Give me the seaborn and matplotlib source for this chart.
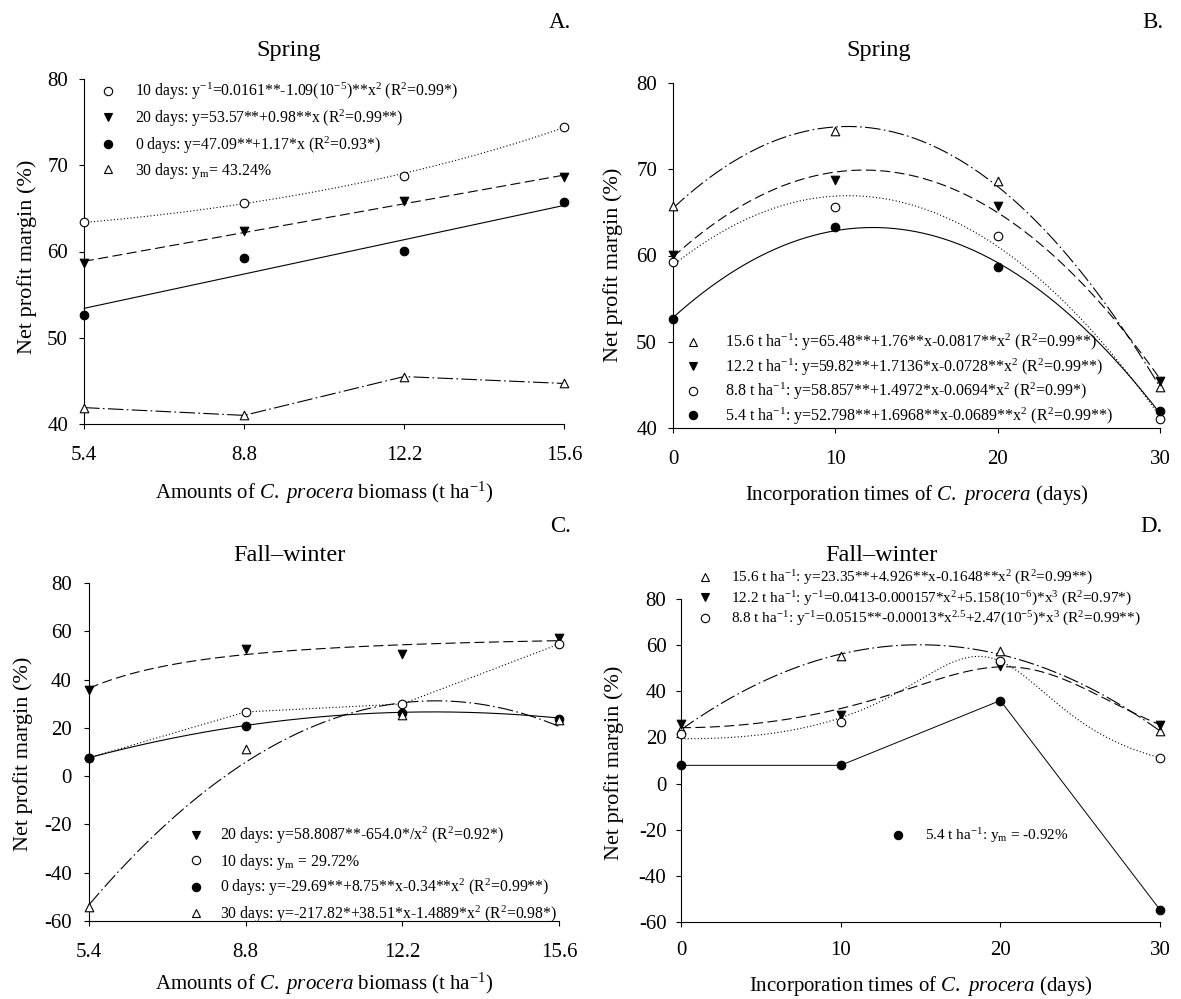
import numpy as np
import matplotlib
matplotlib.use("Agg")
import matplotlib.pyplot as plt
from matplotlib.lines import Line2D
import seaborn as sns

# ---------------- data ----------------
biomass = [5.4, 8.8, 12.2, 15.6]
days = [0, 10, 20, 30]
biomass_ticks = ["5.4", "8.8", "12.2", "15.6"]
days_ticks = ["0", "10", "20", "30"]

# Panel A: spring, x = biomass, series = incorporation time
A_0d = [52.6, 59.3, 60.1, 65.7]
A_10d = [63.4, 65.6, 68.8, 74.4]
A_20d = [58.7, 62.4, 65.8, 68.6]
A_30d = [41.9, 41.0, 45.5, 44.7]
# Panel B: spring, x = days, series = biomass
B_54 = [52.6, 63.3, 58.7, 42.0]
B_88 = [59.2, 65.6, 62.3, 41.0]
B_122 = [60.1, 68.7, 65.7, 45.4]
B_156 = [65.7, 74.4, 68.6, 44.8]
# Panel C: fall-winter, x = biomass
C_0d = [7.6, 20.9, 26.1, 23.7]
C_10d = [7.6, 26.6, 29.9, 54.7]
C_20d = [35.8, 52.7, 50.6, 57.1]
C_30d = [-54.2, 11.3, 25.5, 23.1]
# Panel D: fall-winter, x = days
D_54 = [7.9, 7.9, 36.0, -54.7]
D_88 = [21.3, 26.7, 53.1, 11.2]
D_122 = [25.8, 29.6, 51.1, 25.3]
D_156 = [23.8, 55.4, 57.4, 23.0]

# regression coefficients (from the equations shown in the chart)
A_0d_lin = [47.09, 1.17]
A_20d_lin = [53.57, 0.98]
A_10d_inv = [0.0161, -1.09e-5]          # 1/y = a + b x^2
B_54_quad = [52.798, 1.6968, -0.0689]
B_88_quad = [58.857, 1.4972, -0.0694]
B_122_quad = [59.82, 1.7136, -0.0728]
B_156_quad = [65.48, 1.76, -0.0817]
C_20d_inv2 = [58.8087, -654.0]          # y = a + b / x^2
C_0d_quad = [-29.69, 8.75, -0.34]
C_30d_quad = [-217.82, 38.51, -1.4889]
D_156_quad = [23.35, 4.926, -0.1648]
D_122_inv = [0.0413, -0.000157, 5.158e-6]   # 1/y = a + b x^2 + c x^3
D_88_inv = [0.0515, -0.0001335, 2.577e-5]   # 1/y = a + b x^2.5 + c x^3

# ---------------- style ----------------
sns.set_theme(style="ticks")
plt.rcParams["font.family"] = ["Liberation Serif", "DejaVu Serif"]
plt.rcParams["mathtext.fontset"] = "custom"
plt.rcParams["mathtext.rm"] = "Liberation Serif"
plt.rcParams["mathtext.it"] = "Liberation Serif:italic"
plt.rcParams["mathtext.bf"] = "Liberation Serif:bold"
plt.rcParams["axes.unicode_minus"] = False
plt.rcParams["axes.linewidth"] = 0.8
plt.rcParams["axes.edgecolor"] = "black"
plt.rcParams["xtick.color"] = "black"
plt.rcParams["ytick.color"] = "black"
plt.rcParams["text.color"] = "black"
plt.rcParams["axes.labelcolor"] = "black"

W, H = 1181, 999
fig = plt.figure(figsize=(W / 100, H / 100), dpi=100)
fig.patch.set_facecolor("white")

def px_axes(l, t, r, b):
    return fig.add_axes([l / W, 1 - b / H, (r - l) / W, (b - t) / H])

axA = px_axes(84, 79, 564, 424)
axB = px_axes(673, 83, 1160, 428)
axC = px_axes(89, 583, 559, 921)
axD = px_axes(681, 599, 1160, 922)

MK = {
    "open_o": dict(marker="o", fc="white"),
    "fill_o": dict(marker="o", fc="black"),
    "down": dict(marker="v", fc="black"),
    "up": dict(marker="^", fc="white"),
}
LS = {
    "solid": "-",
    "dash": (0, (9, 4)),
    "dot": (0, (1, 2)),
    "dashdot": (0, (14, 3, 1.5, 3)),
}

def points(ax, x, y, kind):
    m = MK[kind]
    sns.scatterplot(x=x, y=y, ax=ax, marker=m["marker"], s=38,
                    facecolor=m["fc"], edgecolor="black", linewidth=0.8,
                    zorder=5, clip_on=False, legend=False)

def line(ax, x, y, ls, lw=0.8):
    sns.lineplot(x=x, y=y, ax=ax, color="black", linewidth=lw,
                 linestyle=LS[ls], errorbar=None, legend=False,
                 zorder=3, clip_on=False)

def handle(kind):
    m = MK[kind]
    return Line2D([], [], linestyle="none", marker=m["marker"], markersize=6,
                  markerfacecolor=m["fc"], markeredgecolor="black",
                  markeredgewidth=0.8)

def sup(s):
    return r"$^{\mathregular{" + s + "}}$"

def sub(s):
    return r"$_{\mathregular{" + s + "}}$"

def legend(ax, handles, labels, x, y, fs=11.3, spacing=0.34, pad=1.2):
    return ax.legend(handles, labels, loc="upper left",
                     bbox_to_anchor=(x / W, 1 - y / H),
                     bbox_transform=fig.transFigure, frameon=False,
                     fontsize=fs, handlelength=1.0, handletextpad=pad,
                     labelspacing=spacing, borderpad=0, borderaxespad=0)

xb = np.linspace(biomass[0], biomass[-1], 200)
xd = np.linspace(days[0], days[-1], 200)

def quad(c, x):
    return c[0] + c[1] * x + c[2] * x ** 2

# ---------------- Panel A ----------------
line(axA, xb, 1 / (A_10d_inv[0] + A_10d_inv[1] * xb ** 2), "dot")
line(axA, xb, A_20d_lin[0] + A_20d_lin[1] * xb, "dash")
line(axA, xb, A_0d_lin[0] + A_0d_lin[1] * xb, "solid")
line(axA, biomass, A_30d, "dashdot")
points(axA, biomass, A_10d, "open_o")
points(axA, biomass, A_20d, "down")
points(axA, biomass, A_0d, "fill_o")
points(axA, biomass, A_30d, "up")
legend(axA,
       [handle("open_o"), handle("down"), handle("fill_o"), handle("up")],
       ["10 days: y" + sup("-1") + "=0.0161**-1.09(10" + sup("-5") + ")**x" + sup("2") + " (R" + sup("2") + "=0.99*)",
        "20 days: y=53.57**+0.98**x (R" + sup("2") + "=0.99**)",
        "0 days: y=47.09**+1.17*x (R" + sup("2") + "=0.93*)",
        "30 days: y" + sub("m") + "= 43.24%"],
       100, 81, pad=1.22)

# ---------------- Panel B ----------------
line(axB, xd, quad(B_156_quad, xd), "dashdot")
line(axB, xd, quad(B_122_quad, xd), "dash")
line(axB, xd, quad(B_88_quad, xd), "dot")
line(axB, xd, quad(B_54_quad, xd), "solid")
points(axB, days, B_156, "up")
points(axB, days, B_122, "down")
points(axB, days, B_88, "open_o")
points(axB, days, B_54, "fill_o")
tha = "t ha" + sup("-1")
legend(axB,
       [handle("up"), handle("down"), handle("open_o"), handle("fill_o")],
       ["15.6 " + tha + ": y=65.48**+1.76**x-0.0817**x" + sup("2") + " (R" + sup("2") + "=0.99**)",
        "12.2 " + tha + ": y=59.82**+1.7136*x-0.0728**x" + sup("2") + " (R" + sup("2") + "=0.99**)",
        "8.8 " + tha + ": y=58.857**+1.4972*x-0.0694*x" + sup("2") + " (R" + sup("2") + "=0.99*)",
        "5.4 " + tha + ": y=52.798**+1.6968**x-0.0689**x" + sup("2") + " (R" + sup("2") + "=0.99**)"],
       685, 332, fs=11.5, spacing=0.2, pad=1.5)

# ---------------- Panel C ----------------
line(axC, xb, C_20d_inv2[0] + C_20d_inv2[1] / xb ** 2, "dash")
line(axC, biomass, C_10d, "dot")
line(axC, xb, quad(C_0d_quad, xb), "solid")
line(axC, xb, quad(C_30d_quad, xb), "dashdot")
points(axC, biomass, C_20d, "down")
points(axC, biomass, C_10d, "open_o")
points(axC, biomass, C_0d, "fill_o")
points(axC, biomass, C_30d, "up")
legend(axC,
       [handle("down"), handle("open_o"), handle("fill_o"), handle("up")],
       ["20 days: y=58.8087**-654.0*/x" + sup("2") + " (R" + sup("2") + "=0.92*)",
        "10 days: y" + sub("m") + " = 29.72%",
        "0 days: y=-29.69**+8.75**x-0.34**x" + sup("2") + " (R" + sup("2") + "=0.99**)",
        "30 days: y=-217.82*+38.51*x-1.4889*x" + sup("2") + " (R" + sup("2") + "=0.98*)"],
       188, 825, pad=1.06)

# ---------------- Panel D ----------------
line(axD, xd, quad(D_156_quad, xd), "dashdot")
line(axD, xd, 1 / (D_122_inv[0] + D_122_inv[1] * xd ** 2 + D_122_inv[2] * xd ** 3), "dash")
line(axD, xd, 1 / (D_88_inv[0] + D_88_inv[1] * xd ** 2.5 + D_88_inv[2] * xd ** 3), "dot")
line(axD, days, D_54, "solid", lw=0.7)
points(axD, days, D_156, "up")
points(axD, days, D_122, "down")
points(axD, days, D_88, "open_o")
points(axD, days, D_54, "fill_o")
legD = legend(axD,
              [handle("up"), handle("down"), handle("open_o")],
              ["15.6 " + tha + ": y=23.35**+4.926**x-0.1648**x" + sup("2") + " (R" + sup("2") + "=0.99**)",
               "12.2 " + tha + ": y" + sup("-1") + "=0.0413-0.000157*x" + sup("2") + "+5.158(10" + sup("-6") + ")*x" + sup("3") + " (R" + sup("2") + "=0.97*)",
               "8.8 " + tha + ": y" + sup("-1") + "=0.0515**-0.00013*x" + sup("2.5") + "+2.47(10" + sup("-5") + ")*x" + sup("3") + " (R" + sup("2") + "=0.99**)"],
              697, 569, fs=11, spacing=0.15, pad=1.25)
axD.add_artist(legD)
legend(axD, [handle("fill_o")], ["5.4 " + tha + ": y" + sub("m") + " = -0.92%"],
       890, 826, fs=11, pad=1.27)

# ---------------- axes formatting ----------------
xl_bio = r"Amounts of $\mathit{C.\ procera}$ biomass (t ha" + sup("-1") + ")"
xl_days = r"Incorporation times of $\mathit{C.\ procera}$ (days)"

def fmt(ax, xticks, xlabels, ylim, yticks, xlabel, xpad, ypad, xlab_y, ylab_x, ylab_y):
    sns.despine(ax=ax)
    ax.set_facecolor("white")
    ax.set_xlim(xticks[0], xticks[-1])
    ax.set_ylim(*ylim)
    ax.set_xticks(xticks)
    ax.set_xticklabels(xlabels)
    ax.set_yticks(yticks)
    ax.tick_params(direction="out", length=3.5, width=0.8, labelsize=15)
    ax.tick_params(axis="x", pad=xpad)
    ax.tick_params(axis="y", pad=ypad)
    ax.set_xlabel(xlabel, fontsize=15)
    ax.set_ylabel("Net profit margin (%)", fontsize=16)
    ax.xaxis.set_label_coords(0.5, xlab_y)
    ax.yaxis.set_label_coords(ylab_x, ylab_y)
    ax.grid(False)

fmt(axA, biomass, biomass_ticks, (40, 80), [40, 50, 60, 70, 80], xl_bio, 12.5, 8, -0.163, -0.097, 0.485)
fmt(axB, days, days_ticks, (40, 80), [40, 50, 60, 70, 80], xl_days, 12.5, 8, -0.158, -0.102, 0.472)
fmt(axC, biomass, biomass_ticks, (-60, 80), list(range(-60, 81, 20)), xl_bio, 12, 9, -0.148, -0.12, 0.496)
fmt(axD, days, days_ticks, (-60, 80), list(range(-60, 81, 20)), xl_days, 10.5, 7, -0.16, -0.12, 0.492)

# titles and panel letters
for (cx, by, txt) in [(289, 56, "Spring"), (879, 56, "Spring"),
                      (289, 561, "Fall\u2013winter"), (881, 561, "Fall\u2013winter")]:
    fig.text(cx / W, 1 - by / H, txt, ha="center", va="baseline", fontsize=17.5)
for (rx, by, txt) in [(571, 28, "A."), (1163, 28, "B."), (571, 532, "C."), (1163, 532, "D.")]:
    fig.text(rx / W, 1 - by / H, txt, ha="right", va="baseline", fontsize=16.5)

fig.savefig("out.png", dpi=100, facecolor="white")
